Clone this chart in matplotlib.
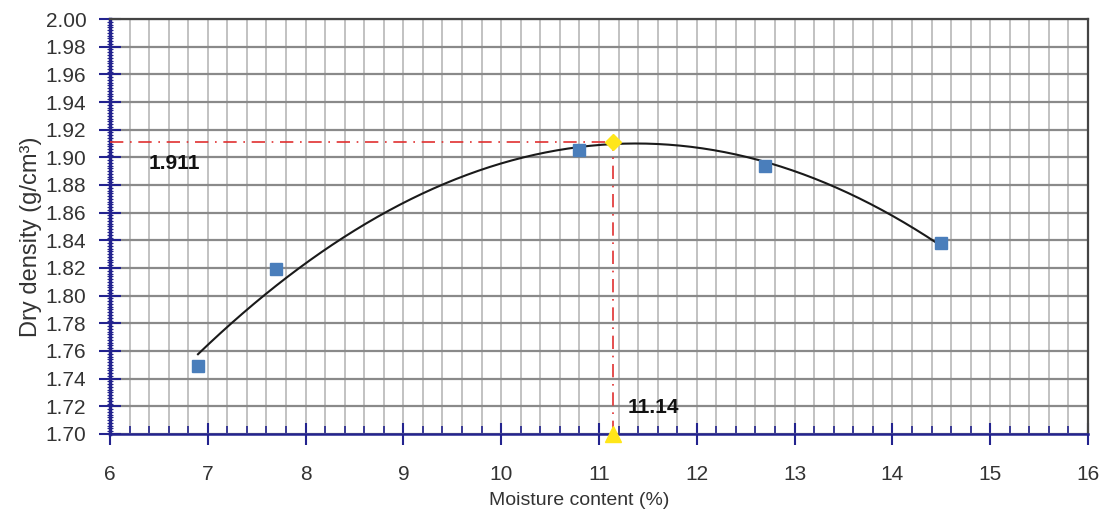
import matplotlib

matplotlib.use("Agg")
import matplotlib.pyplot as plt
import numpy as np
from matplotlib.ticker import MultipleLocator

plt.rcParams["font.family"] = ["Liberation Sans Narrow", "Liberation Sans", "DejaVu Sans"]

# compaction test points
moisture = [6.9, 7.7, 10.8, 12.7, 14.5]
dry_density = [1.749, 1.819, 1.905, 1.894, 1.838]

# optimum
omc = 11.14
mdd = 1.911

fig = plt.figure(figsize=(11.03, 5.18), dpi=100)
ax = fig.add_axes([0.0997, 0.1622, 0.8867, 0.8011])

ax.set_xlim(6, 16)
ax.set_ylim(1.70, 2.00)
ax.xaxis.set_major_locator(MultipleLocator(1))
ax.xaxis.set_minor_locator(MultipleLocator(0.2))
ax.yaxis.set_major_locator(MultipleLocator(0.02))
ax.yaxis.set_minor_locator(MultipleLocator(0.002))
ax.yaxis.set_major_formatter(matplotlib.ticker.FormatStrFormatter("%.2f"))

ax.grid(True, which="major", axis="y", color="#8a8a8a", lw=1.6, zorder=0)
ax.grid(True, which="both", axis="x", color="#c2c2c2", lw=1.4, zorder=0)
ax.set_axisbelow(True)

blue = "#23238e"
for side in ("left", "bottom"):
    ax.spines[side].set_color(blue)
    ax.spines[side].set_linewidth(1.8)
ax.spines["left"].set_linewidth(2.5)
for side in ("top", "right"):
    ax.spines[side].set_color("#444444")
    ax.spines[side].set_linewidth(1.6)

ax.tick_params(axis="x", which="major", direction="inout", length=16, width=1.5,
               color=blue, labelsize=15, labelcolor="#333333", pad=14)
ax.tick_params(axis="x", which="minor", direction="in", length=6, width=1.2, color=blue)
ax.tick_params(axis="y", which="major", direction="inout", length=16, width=1.5,
               color=blue, labelsize=15, labelcolor="#333333", pad=9)
ax.tick_params(axis="y", which="minor", direction="inout", length=5, width=0.8, color=blue)

# 2nd order trendline through the test points
coef = np.polyfit(moisture, dry_density, 2)
xs = np.linspace(min(moisture), max(moisture), 200)
ax.plot(xs, np.polyval(coef, xs), color="#1a1a1a", lw=1.5, zorder=3)

ax.plot(moisture, dry_density, "s", color="#4a7ebb", markersize=9, zorder=4)

# optimum guide lines
ax.plot([6, omc], [mdd, mdd], color="#e03030", lw=1.2, dashes=(8, 4, 1, 4), zorder=3)
ax.plot([omc, omc], [1.70, mdd], color="#e03030", lw=1.2, dashes=(8, 4, 1, 4), zorder=3)
ax.plot([omc], [mdd], marker="D", color="#ffe619", markersize=8, zorder=5, clip_on=False)
ax.plot([omc], [1.70], marker="^", color="#ffe619", markersize=11, zorder=5, clip_on=False)

ax.text(6.4, 1.8955, f"{mdd:.3f}", fontsize=15, fontweight="bold", color="#111111",
        va="center", ha="left")
ax.text(omc + 0.15, 1.719, f"{omc:.2f}", fontsize=15, fontweight="bold", color="#111111",
        va="center", ha="left")

ax.set_xlabel("Moisture content (%)", fontsize=14, color="#333333")
ax.xaxis.set_label_coords(0.48, -0.14)
ax.set_ylabel("Dry density (g/cm\u00b3)", fontsize=17, color="#333333")
ax.yaxis.set_label_coords(-0.07, 0.475)

fig.savefig("out.png", dpi=100)
